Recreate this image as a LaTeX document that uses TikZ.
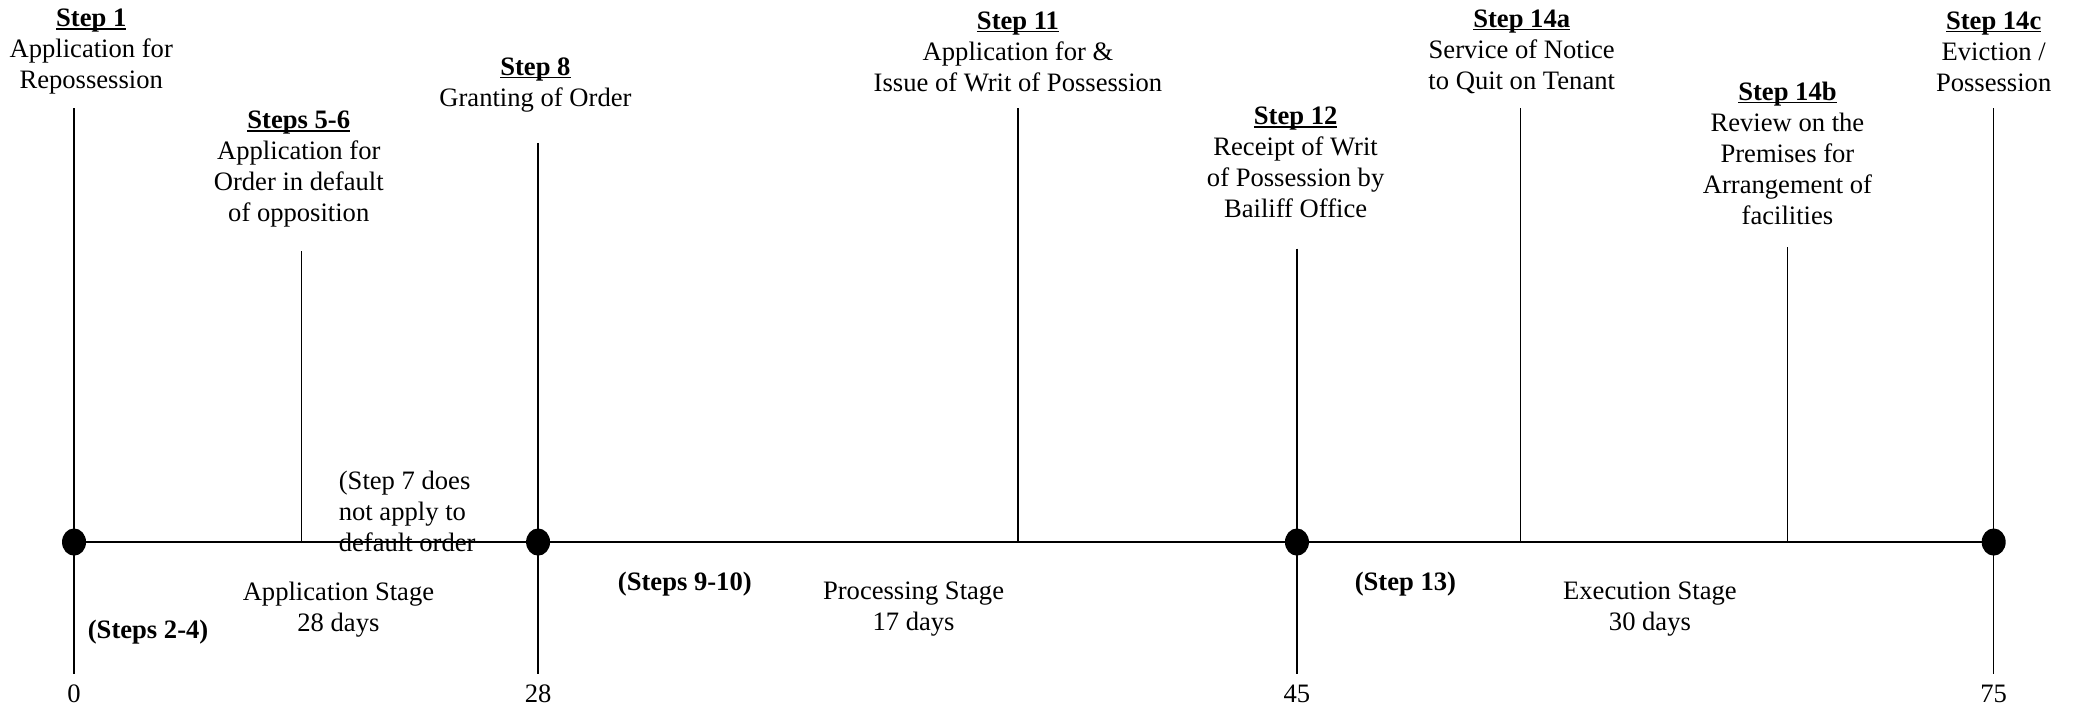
\documentclass[tikz,border=0pt]{standalone}
\usepackage{fontspec}
\setmainfont{Liberation Serif}
\usetikzlibrary{shapes.geometric}
% bold heading with a rule just under the baseline
\newcommand{\stephead}[1]{\setbox0\hbox{\bfseries #1}\rlap{\rule[-1.5pt]{\wd0}{0.7pt}}\box0}
\begin{document}
\begin{tikzpicture}[x=0.661pt,y=-0.661pt,
  txt/.style={font=\fontsize{13.3}{15.5}\selectfont, align=center, inner sep=0pt},
  btxt/.style={font=\fontsize{13.3}{15.5}\selectfont\bfseries, inner sep=0pt},
  rule/.style={line width=0.8pt},
  dot/.style={ellipse, fill=black, inner sep=0pt, minimum width=12pt, minimum height=13.6pt}]
\useasboundingbox (0,0) rectangle (1568,534);

% milestones on the time axis
\node[dot] (d0)  at (56,410) {};
\node[dot] (d28) at (407,410) {};
\node[dot] (d45) at (981,410) {};
\node[dot] (d75) at (1508,410) {};
\draw[rule] (d0.center) -- (d75.center);

% step markers
\coordinate (s1t) at (56,82);   \coordinate (s1b) at (56,510);
\coordinate (s5t) at (228,190); \coordinate (s5b) at (228,410);
\coordinate (s8t) at (407,108); \coordinate (s8b) at (407,510);
\coordinate (s11t) at (770,82); \coordinate (s11b) at (770,410);
\coordinate (s12t) at (981,188); \coordinate (s12b) at (981,510);
\coordinate (s14at) at (1150,82); \coordinate (s14ab) at (1150,410);
\coordinate (s14bt) at (1352,187); \coordinate (s14bb) at (1352,410);
\coordinate (s14ct) at (1508,82); \coordinate (s14cb) at (1508,510);
\draw[rule] (s1t) -- (s1b);
\draw[rule] (s5t) -- (s5b);
\draw[rule] (s8t) -- (s8b);
\draw[rule] (s11t) -- (s11b);
\draw[rule] (s12t) -- (s12b);
\draw[rule] (s14at) -- (s14ab);
\draw[rule] (s14bt) -- (s14bb);
\draw[rule] (s14ct) -- (s14cb);

% step descriptions
\node[txt] (l1) at (69,39) {\stephead{Step 1}\\Application for\\Repossession};
\node[txt] (l5) at (226,128) {\stephead{Steps 5-6}\\Application for\\Order in default\\of opposition};
\node[txt] (l8) at (405,64) {\stephead{Step 8}\\Granting of Order};
\node[txt] (l11) at (770,39) {\stephead{Step 11}\\Application for \&\\Issue of Writ of Possession};
\node[txt] (l12) at (980,123) {\stephead{Step 12}\\Receipt of Writ\\of Possession by\\Bailiff Office};
\node[txt] (l14a) at (1151,39) {\stephead{Step 14a}\\Service of Notice\\to Quit on Tenant};
\node[txt] (l14b) at (1352,116) {\stephead{Step 14b}\\Review on the\\Premises for\\Arrangement of\\facilities};
\node[txt] (l14c) at (1508,39) {\stephead{Step 14c}\\Eviction /\\Possession};

% notes below the axis
\node[txt, align=left, anchor=west] (n7) at (256,387) {(Step 7 does\\not apply to\\default order};
\node[txt] (st1) at (256,461) {Application Stage\\28 days};
\node[txt] (st2) at (691,461) {Processing Stage\\17 days};
\node[txt] (st3) at (1248,461) {Execution Stage\\30 days};
\node[btxt] (sub1) at (112,478) {(Steps 2-4)};
\node[btxt] (sub2) at (518,442) {(Steps 9-10)};
\node[btxt] (sub3) at (1063,442) {(Step 13)};

% day counts
\node[txt] (day0) at (56,525) {0};
\node[txt] (day28) at (407,525) {28};
\node[txt] (day45) at (981,525) {45};
\node[txt] (day75) at (1508,525) {75};
\end{tikzpicture}
\end{document}
